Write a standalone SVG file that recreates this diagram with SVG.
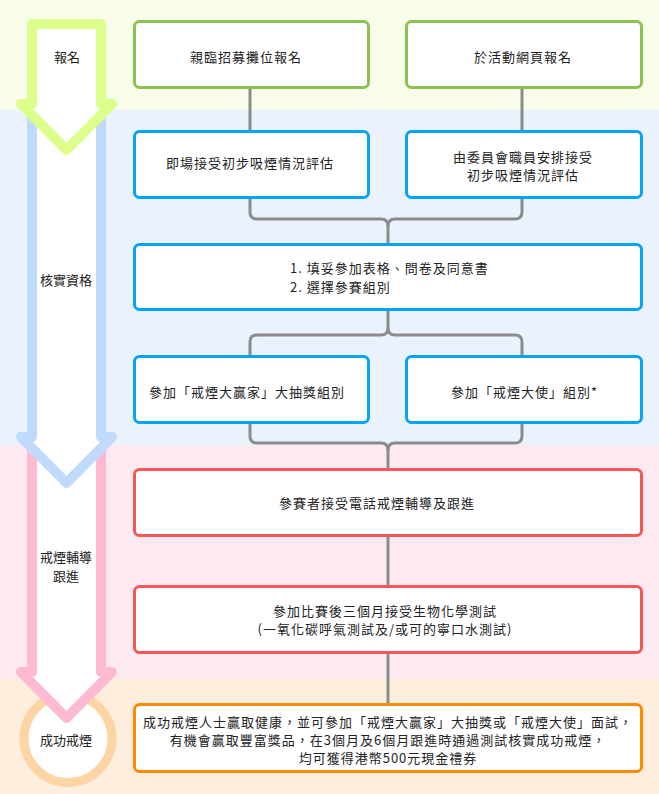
<svg xmlns="http://www.w3.org/2000/svg" width="659" height="794" viewBox="0 0 659 794">
<style>
text{font-family:"Noto Sans CJK TC","Noto Sans CJK SC",sans-serif;font-size:13px;fill:#222;}
.t{letter-spacing:1px;text-anchor:middle;}
.l{text-anchor:middle;}
.box{fill:#fff;stroke-width:3;}
.g{stroke:#8bc152;}
.b{stroke:#06a4f4;}
.r{stroke:#f65656;}
.o{stroke:#ff8a00;}
.arr{fill:#fff;stroke-width:10;stroke-linejoin:round;}
.con{fill:none;stroke:#8c8c8c;stroke-width:3;}
</style>
<!-- bands -->
<rect x="0" y="0" width="659" height="110" fill="#f8fde9"/>
<rect x="0" y="110" width="659" height="335" fill="#eaf2fd"/>
<rect x="0" y="445" width="659" height="234" fill="#fdeaf1"/>
<rect x="0" y="679" width="659" height="115" fill="#fdeedd"/>

<!-- stage indicators -->
<g id="stage-success">
<circle cx="68" cy="738.5" r="44" fill="#fff" stroke="#fdd4a4" stroke-width="9"/>
</g>
<g id="stage-followup">
<path class="arr" stroke="#fdbad2" d="M32,400 H101 V672 H112 L66.5,718 L21,672 H32 Z"/>
</g>
<g id="stage-verify">
<path class="arr" stroke="#c0dafc" d="M32,60 H101 V437 H112 L66.5,483 L21,437 H32 Z"/>
</g>
<g id="stage-register">
<path class="arr" stroke="#dbff8a" d="M32,24 H101 V104 H112 L66.5,150 L21,104 H32 Z"/>
</g>
<text class="l" x="67" y="62">報名</text>
<text class="l" x="66" y="285">核實資格</text>
<text class="l" x="66" y="562">戒煙輔導</text>
<text class="l" x="66" y="581">跟進</text>
<text class="l" x="66" y="745">成功戒煙</text>

<!-- connectors -->
<g id="connectors">
<path class="con" d="M250,89 V130"/>
<path class="con" d="M522,89 V130"/>
<path class="con" d="M250,199 V212 Q250,219 257,219 H381 Q388,219 388,226 V243"/>
<path class="con" d="M522,199 V212 Q522,219 515,219 H395 Q388,219 388,226"/>
<path class="con" d="M388,311 V328 Q388,335 381,335 H257 Q250,335 250,342 V355"/>
<path class="con" d="M388,328 Q388,335 395,335 H515 Q522,335 522,342 V355"/>
<path class="con" d="M250,424 V436 Q250,443 257,443 H381 Q388,443 388,450 V468"/>
<path class="con" d="M522,424 V436 Q522,443 515,443 H395 Q388,443 388,450"/>
<path class="con" d="M388,537 V585"/>
<path class="con" d="M388,654 V703"/>
</g>

<!-- nodes -->
<g id="reg-booth">
<rect class="box g" x="134.5" y="21.5" width="234" height="66" rx="5"/>
<text class="t" x="246" y="62">親臨招募攤位報名</text>
</g>
<g id="reg-web">
<rect class="box g" x="406.5" y="21.5" width="235" height="66" rx="5"/>
<text class="t" x="523" y="62">於活動網頁報名</text>
</g>
<g id="assess-onsite">
<rect class="box b" x="134.5" y="131.5" width="234" height="66" rx="5"/>
<text class="t" x="250" y="168">即場接受初步吸煙情況評估</text>
</g>
<g id="assess-staff">
<rect class="box b" x="406.5" y="131.5" width="235" height="66" rx="5"/>
<text class="t" x="523" y="162">由委員會職員安排接受</text>
<text class="t" x="523" y="180">初步吸煙情況評估</text>
</g>
<g id="forms">
<rect class="box b" x="134.5" y="244.5" width="507" height="65" rx="5"/>
<text x="290" y="273" style="letter-spacing:1px">1. 填妥參加表格、問卷及同意書</text>
<text x="290" y="292" style="letter-spacing:1px">2. 選擇參賽組別</text>
</g>
<g id="group-lucky">
<rect class="box b" x="134.5" y="356.5" width="234" height="66" rx="5"/>
<text class="t" x="247" y="397">參加「戒煙大贏家」大抽獎組別</text>
</g>
<g id="group-ambassador">
<rect class="box b" x="406.5" y="356.5" width="235" height="66" rx="5"/>
<text class="t" x="524.5" y="397">參加「戒煙大使」組別*</text>
</g>
<g id="counselling">
<rect class="box r" x="134.5" y="469.5" width="507" height="66" rx="5"/>
<text class="t" x="377" y="508">參賽者接受電話戒煙輔導及跟進</text>
</g>
<g id="biotest">
<rect class="box r" x="134.5" y="586.5" width="507" height="66" rx="5"/>
<text class="t" x="385" y="616">參加比賽後三個月接受生物化學測試</text>
<text class="t" x="385" y="634">(一氧化碳呼氣測試及/或可的寧口水測試)</text>
</g>
<g id="success">
<rect class="box o" x="134.5" y="704.5" width="507" height="67" rx="5"/>
<text class="t" x="388" y="727">成功戒煙人士贏取健康，並可參加「戒煙大贏家」大抽獎或「戒煙大使」面試，</text>
<text class="t" x="388" y="745">有機會贏取豐富獎品，在3個月及6個月跟進時通過測試核實成功戒煙，</text>
<text class="t" x="388" y="763">均可獲得港幣500元現金禮券</text>
</g>
</svg>
